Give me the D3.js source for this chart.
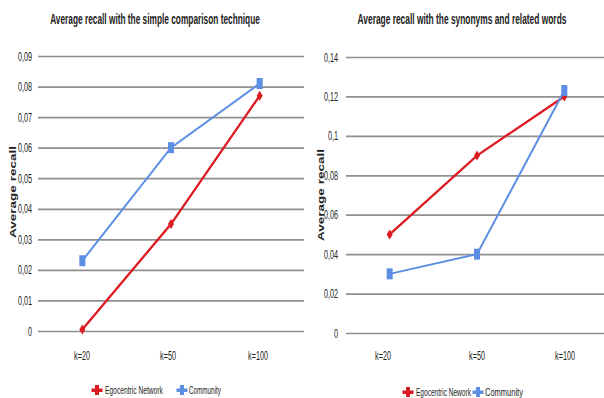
<!DOCTYPE html>
<html>
<head>
<meta charset="utf-8">
<script src="https://cdn.jsdelivr.net/npm/d3@7"></script>
<style>
  html, body { margin: 0; padding: 0; background: #fff; }
  svg { display: block; }
  text { font-family: "Liberation Sans Narrow", "Liberation Sans", "DejaVu Sans Condensed", sans-serif; fill: #222; }
</style>
</head>
<body>
<svg id="chart" width="604" height="398"></svg>
<script>
// Categories shared by both panels
const categories = ["k=20", "k=50", "k=100"];
const seriesNames = ["Egocentric Network", "Community"];
const seriesNamesRight = ["Egocentric Nework", "Community"];

// Simple comparison technique
const simpleEgocentric = [0.0005, 0.035, 0.077];
const simpleCommunity = [0.023, 0.060, 0.081];
const simpleTicks = [0, 0.01, 0.02, 0.03, 0.04, 0.05, 0.06, 0.07, 0.08, 0.09];

// Synonyms and related words
const synEgocentric = [0.050, 0.090, 0.120];
const synCommunity = [0.030, 0.040, 0.123];
const synTicks = [0, 0.02, 0.04, 0.06, 0.08, 0.1, 0.12, 0.14];

const titles = [
  "Average recall with the simple comparison technique",
  "Average recall with the synonyms and related words"
];

const RED = "#dc1a22";
const BLUE = "#5c8fe3";
const GRID = "#8f8f8f";

const svg = d3.select("#chart");
const fmt = v => (v === 0 ? "0" : String(+v.toFixed(2))).replace(".", ",");

// Condensed text: fixed horizontal scale factor
function squeezedText(g, x, y, str, size, anchor, sx, weight) {
  return g.append("text")
    .attr("transform", `translate(${x},${y}) scale(${sx},1)`)
    .attr("text-anchor", anchor || "middle")
    .attr("font-size", size)
    .attr("font-weight", weight || "normal")
    .text(str);
}

// Condensed text squeezed to a given width
function fitText(g, x, y, str, size, anchor, width, weight) {
  const t = g.append("text")
    .attr("text-anchor", anchor || "middle")
    .attr("font-size", size)
    .attr("font-weight", weight || "normal")
    .text(str);
  const w = t.node().getComputedTextLength() || width;
  t.attr("transform", `translate(${x},${y}) scale(${width / w},1)`);
  return t;
}

function panel(cfg) {
  const g = svg.append("g");
  const x = d3.scaleBand().domain(categories).range([cfg.x0, cfg.x1]);
  const y = d3.scaleLinear().domain([0, cfg.max]).range([cfg.yBottom, cfg.yTop]);
  const cx = c => x(c) + x.bandwidth() / 2;

  // Title
  fitText(g, cfg.titleX, 24, cfg.title, 14, "middle", cfg.titleLen, "bold");

  // Gridlines
  const yAxis = d3.axisLeft(y).tickValues(cfg.ticks).tickSize(-(cfg.x1 - cfg.x0)).tickFormat("");
  const ya = g.append("g").attr("transform", `translate(${cfg.x0},0)`).call(yAxis);
  ya.select(".domain").remove();
  ya.selectAll(".tick line").attr("stroke", GRID).attr("stroke-width", 1.7);
  ya.selectAll(".tick text").remove();

  // Y tick labels
  cfg.ticks.forEach(t => {
    squeezedText(g, cfg.labelX, y(t) + 4.5, fmt(t), 12.5, "end", 0.58);
  });

  // Y axis title
  const yt = g.append("text")
    .attr("text-anchor", "middle")
    .attr("font-family", "Liberation Sans, Arial, sans-serif")
    .attr("font-size", 10).attr("font-weight", "bold")
    .text("Average recall");
  const ytw = yt.node().getComputedTextLength() || 92;
  yt.attr("transform", `translate(${cfg.yTitleX},${cfg.yTitleY}) rotate(-90) scale(${92 / ytw},0.95)`);

  // X category labels
  categories.forEach((c, i) => {
    squeezedText(g, cfg.xLabelPos[i], 360, c, 12, "middle", 0.6);
  });

  const line = d3.line().x((d, i) => cx(categories[i])).y(d => y(d));

  // Egocentric network series
  g.append("path").datum(cfg.ego)
    .attr("fill", "none").attr("stroke", RED).attr("stroke-width", 2.3)
    .attr("d", line);
  g.selectAll(".ego").data(cfg.ego).join("path")
    .attr("fill", RED)
    .attr("transform", (d, i) => `translate(${cx(categories[i])},${y(d)})`)
    .attr("d", "M0,-5 L3,0 L0,5 L-3,0 Z");

  // Community series
  g.append("path").datum(cfg.com)
    .attr("fill", "none").attr("stroke", BLUE).attr("stroke-width", 2)
    .attr("d", line);
  g.selectAll(".com").data(cfg.com).join("rect")
    .attr("fill", BLUE)
    .attr("x", (d, i) => cx(categories[i]) - 3)
    .attr("y", d => y(d) - 5.5)
    .attr("width", 6).attr("height", 11);

  // Legend
  const lg = g.append("g").attr("transform", `translate(0,${cfg.legendY})`);
  const plus = (px, color) => {
    lg.append("rect").attr("x", px - 5.5).attr("y", -1.5).attr("width", 11).attr("height", 3.5).attr("fill", color);
    lg.append("rect").attr("x", px - 2).attr("y", -5).attr("width", 4).attr("height", 10).attr("fill", color);
  };
  plus(cfg.legend[0], RED);
  fitText(lg, cfg.legend[0] + 8, 4, cfg.names[0], 11.5, "start", cfg.legendW[0]);
  plus(cfg.legend[1], BLUE);
  fitText(lg, cfg.legend[1] + 7, 4, cfg.names[1], 11.5, "start", cfg.legendW[1]);
}

panel({
  title: titles[0], titleX: 155, titleLen: 210,
  x0: 38, x1: 304, yBottom: 331, yTop: 56, max: 0.09,
  ticks: simpleTicks, labelX: 32,
  yTitleX: 16, yTitleY: 192,
  xLabelPos: [82, 168, 258],
  ego: simpleEgocentric, com: simpleCommunity,
  legendY: 390, legend: [97, 182], legendW: [58, 32], names: seriesNames
});

panel({
  title: titles[1], titleX: 462, titleLen: 209,
  x0: 346, x1: 608, yBottom: 333, yTop: 57, max: 0.14,
  ticks: synTicks, labelX: 338,
  yTitleX: 324, yTitleY: 195,
  xLabelPos: [383, 477, 565],
  ego: synEgocentric, com: synCommunity,
  legendY: 392, legend: [408, 478], legendW: [55, 38], names: seriesNamesRight
});
</script>
</body>
</html>
